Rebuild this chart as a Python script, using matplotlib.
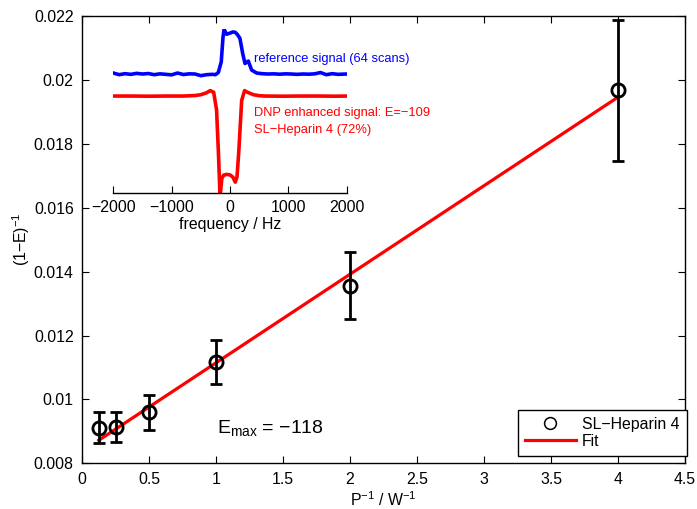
import numpy as np
import matplotlib
matplotlib.use("Agg")
import matplotlib.pyplot as plt
from matplotlib.ticker import FuncFormatter, MultipleLocator
from matplotlib.lines import Line2D

plt.rcParams['font.family'] = ['Liberation Sans', 'DejaVu Sans']
plt.rcParams['mathtext.fontset'] = 'custom'
plt.rcParams['mathtext.rm'] = 'Liberation Sans'
plt.rcParams['mathtext.it'] = 'Liberation Sans:italic'
plt.rcParams['mathtext.default'] = 'regular'

# ---- main data ----
power_inv = [0.125, 0.25, 0.5, 1.0, 2.0, 4.0]
inv_one_minus_E = [0.00911, 0.00914, 0.00959, 0.01116, 0.01356, 0.01967]
err = [0.00048, 0.00048, 0.00054, 0.00069, 0.00105, 0.00222]

fit_x = [0.125, 4.0]
fit_y = [0.00872, 0.01946]

emax_text = "E$_{max}$ = \u2212118"

# ---- inset spectra (arbitrary intensity) ----
blue_freq = [-2000, -1900, -1800, -1700, -1600, -1500, -1400, -1300, -1200, -1100,
             -1000, -900, -800, -700, -600, -500, -400, -300, -250, -200, -150,
             -120, -100, -60, 0, 50, 90, 130, 170, 217, 257, 314, 371, 457, 550,
             650, 750, 850, 950, 1050, 1150, 1250, 1350, 1450, 1550, 1650, 1750,
             1850, 2000]
blue_sig = [0.732, 0.722, 0.728, 0.724, 0.730, 0.726, 0.729, 0.722, 0.727, 0.724,
            0.721, 0.732, 0.723, 0.727, 0.726, 0.716, 0.722, 0.724, 0.722, 0.735, 0.80,
            0.95, 0.998, 0.968, 0.975, 0.982, 0.980, 0.965, 0.943, 0.852, 0.790, 0.805,
            0.750, 0.732, 0.728, 0.726, 0.727, 0.725, 0.727, 0.726, 0.724, 0.726, 0.725,
            0.727, 0.735, 0.722, 0.728, 0.724, 0.726]

red_freq = [-2000, -1700, -1400, -1100, -800, -600, -500, -400, -340, -280, -230,
            -200, -170, -140, -110, -60, 0, 50, 90, 120, 150, 200, 250, 300, 400,
            500, 600, 900, 1200, 1500, 1800, 2000]
red_sig = [0.592, 0.592, 0.591, 0.592, 0.592, 0.595, 0.600, 0.612, 0.625, 0.615, 0.507,
           0.26, -0.02, 0.09, 0.110, 0.115, 0.112, 0.098, 0.068, 0.10, 0.25, 0.565,
           0.625, 0.615, 0.600, 0.594, 0.592, 0.591, 0.592, 0.592, 0.591, 0.592]

W, H = 697, 509
fig = plt.figure(figsize=(W / 100, H / 100), dpi=100)
ax = fig.add_axes([82 / W, (H - 463.3) / H, (685 - 82) / W, (463.3 - 16) / H])

fit_line, = ax.plot(fit_x, fit_y, color='red', lw=2.3, label='Fit', zorder=3)
ax.errorbar(power_inv, inv_one_minus_E, yerr=err, fmt='none', ecolor='black',
            elinewidth=2.0, capsize=4, capthick=2.0, zorder=4)
ax.plot(power_inv, inv_one_minus_E, ls='none', marker='o', markersize=9.5,
        markerfacecolor='none', markeredgecolor='black', markeredgewidth=2.0,
        zorder=5)

ax.set_xlim(0, 4.5)
ax.set_ylim(0.008, 0.022)
ax.xaxis.set_major_locator(MultipleLocator(0.5))
ax.yaxis.set_major_locator(MultipleLocator(0.002))
fmt = FuncFormatter(lambda v, p: ('%g' % round(v, 6)).replace('-', '\u2212'))
ax.xaxis.set_major_formatter(fmt)
ax.yaxis.set_major_formatter(fmt)
ax.tick_params(direction='in', length=5, width=0.8, top=True, right=True,
               labelsize=11.4, pad=6)
for s in ax.spines.values():
    s.set_linewidth(1.0)

ax.set_xlabel('P$^{-1}$ / W$^{-1}$', fontsize=11.4, labelpad=3)
ax.set_ylabel('(1\u2212E)$^{-1}$', fontsize=11.4, labelpad=1.5)

ax.text(1.005, 0.0091, emax_text, fontsize=14, va='center', ha='left')

marker_handle = Line2D([], [], ls='none', marker='o', markersize=8.5,
                       markerfacecolor='none', markeredgecolor='black',
                       markeredgewidth=1.1)
leg = ax.legend([marker_handle, fit_line], ['SL\u2212Heparin 4', 'Fit'], loc='lower right',
                bbox_to_anchor=(686.5 / W, (H - 456) / H), bbox_transform=fig.transFigure,
                borderaxespad=0, fontsize=11.4, fancybox=False, framealpha=1,
                edgecolor='black', handlelength=3.2, handletextpad=0.4,
                borderpad=0.45, labelspacing=0.12)
leg.get_frame().set_linewidth(1.0)

# ---- inset ----
ai = fig.add_axes([113.3 / W, (H - 193.3) / H, (346.7 - 113.3) / W, (193.3 - 29) / H])
ai.set_facecolor('none')
ai.plot(blue_freq, blue_sig, color='blue', lw=2.6)
ai.plot(red_freq, red_sig, color='red', lw=2.6)
ai.set_xlim(-2000, 2000)
ai.set_ylim(0, 1.0)
for k in ['top', 'left', 'right']:
    ai.spines[k].set_visible(False)
ai.spines['bottom'].set_linewidth(1.0)
ai.set_yticks([])
ai.set_xticks([-2000, -1000, 0, 1000, 2000])
ai.xaxis.set_major_formatter(fmt)
ai.tick_params(axis='x', direction='in', length=5, width=0.8, labelsize=11.4, pad=5)
ai.set_xlabel('frequency / Hz', fontsize=11.4, labelpad=1)

ai.text(254 / W, (H - 59.3) / H, 'reference signal (64 scans)', color='blue',
        fontsize=9.3, transform=fig.transFigure, va='center', ha='left')
ai.text(254 / W, (H - 113) / H, 'DNP enhanced signal: E=\u2212109', color='red',
        fontsize=9.3, transform=fig.transFigure, va='center', ha='left')
ai.text(254 / W, (H - 129.5) / H, 'SL\u2212Heparin 4 (72%)', color='red',
        fontsize=9.3, transform=fig.transFigure, va='center', ha='left')

fig.savefig('out.png', dpi=100)
